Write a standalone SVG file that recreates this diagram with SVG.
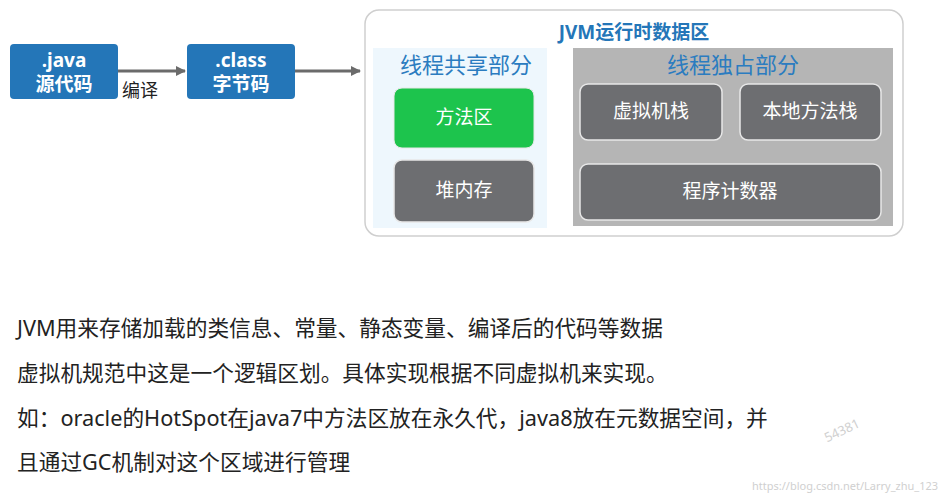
<svg xmlns="http://www.w3.org/2000/svg" width="944" height="500" viewBox="0 0 944 500">
<style>
text{font-family:"Noto Sans","Noto Sans CJK SC",sans-serif}
.blue{fill:#2476b8}
.wt{fill:#fff;font-size:19px;font-weight:bold;text-anchor:middle}
.gb{fill:#6d6e71;stroke:#e8e8e8;stroke-width:1.5}
.gt{fill:#fff;font-size:19px;text-anchor:middle}
.lbl{fill:#2b7cc0;font-size:22px;text-anchor:middle}
.body{fill:#222;font-size:21.7px}
</style>
<defs><marker id="ar" markerWidth="10" markerHeight="10" refX="9" refY="5" orient="auto" markerUnits="userSpaceOnUse"><path d="M0,0L10,5L0,10z" fill="#6b6b6b"/></marker></defs>
<rect width="944" height="500" fill="#fff"/>
<g id="java"><rect class="blue" x="10" y="44" width="108" height="55" rx="4"/><text class="wt" x="64" y="67">.java</text><text class="wt" x="64" y="91">源代码</text></g>
<g id="class"><rect class="blue" x="187" y="44" width="108" height="55" rx="4"/><text class="wt" x="241" y="67">.class</text><text class="wt" x="241" y="91">字节码</text></g>
<g id="connectors" stroke="#6b6b6b" stroke-width="3"><line x1="118" y1="71" x2="185" y2="71" marker-end="url(#ar)"/><line x1="295" y1="71" x2="360" y2="71" marker-end="url(#ar)"/></g>
<text x="122" y="97" font-size="18" fill="#222">编译</text>
<g id="jvm"><rect x="365" y="10" width="538" height="226" rx="14" fill="#fff" stroke="#cfcfcf" stroke-width="1.5"/><text x="634" y="39" font-size="19" font-weight="bold" fill="#2476b8" text-anchor="middle">JVM运行时数据区</text></g>
<g id="shared"><rect x="373" y="48" width="174" height="180" fill="#eef7fd"/><text class="lbl" x="466" y="73">线程共享部分</text></g>
<g id="method"><rect x="394" y="88" width="140" height="60" rx="8" fill="#1dc44d" stroke="#e8e8e8"/><text class="gt" x="464" y="124">方法区</text></g>
<g id="heap"><rect class="gb" x="394" y="160" width="140" height="62" rx="8"/><text class="gt" x="464" y="197">堆内存</text></g>
<g id="exclusive"><rect x="573" y="48" width="320" height="178" fill="#b5b5b5"/><text class="lbl" x="733" y="73">线程独占部分</text></g>
<g id="vmstack"><rect class="gb" x="580" y="84" width="142" height="56" rx="8"/><text class="gt" x="651" y="118">虚拟机栈</text></g>
<g id="native"><rect class="gb" x="740" y="84" width="141" height="56" rx="8"/><text class="gt" x="810" y="118">本地方法栈</text></g>
<g id="pc"><rect class="gb" x="580" y="164" width="301" height="56" rx="8"/><text class="gt" x="730" y="198">程序计数器</text></g>
<text class="body" x="17" y="336">JVM用来存储加载的类信息、常量、静态变量、编译后的代码等数据</text>
<text class="body" x="17" y="381">虚拟机规范中这是一个逻辑区划。具体实现根据不同虚拟机来实现。</text>
<text class="body" x="17" y="426">如：oracle的HotSpot在java7中方法区放在永久代，java8放在元数据空间，并</text>
<text class="body" x="17" y="470">且通过GC机制对这个区域进行管理</text>
<text x="752" y="490" font-size="11" fill="#d0d0d0" font-family="Liberation Sans,sans-serif">https://blog.csdn.net/Larry_zhu_123</text>
<text x="822" y="440" font-size="13" fill="#d0d0d0" transform="rotate(-25 830 430)">54381</text>
</svg>
